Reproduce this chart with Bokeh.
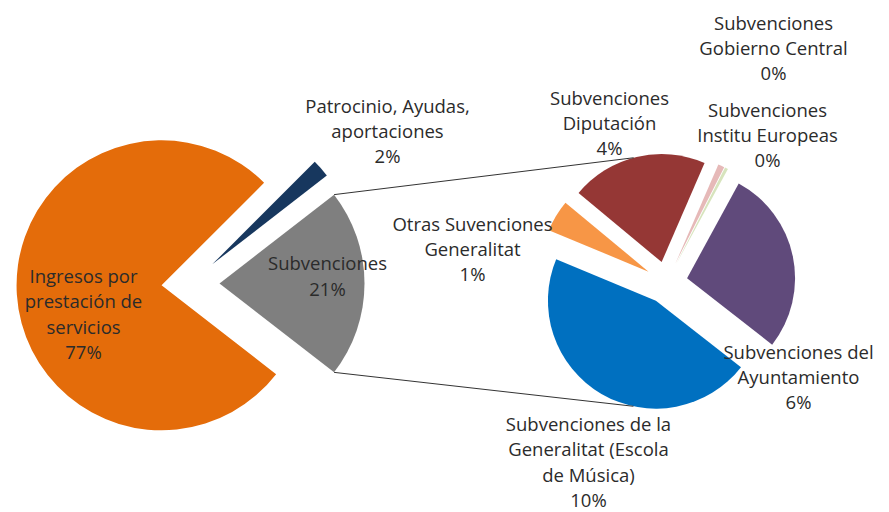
import math
from bokeh.plotting import figure
from bokeh.models import Range1d
from bokeh.core.properties import value
from bokeh.embed import file_html
from bokeh.resources import INLINE

# ---------------- data ----------------
outer_labels = ["Subvenciones",
                "Patrocinio, Ayudas,\naportaciones",
                "Ingresos por\nprestación de\nservicios"]
outer_values = [21, 2, 77]
outer_colors = ["#7F7F7F", "#17375E", "#E46C0A"]

inner_labels = ["Subvenciones del\nAyuntamiento",
                "Subvenciones\nInstitu Europeas",
                "Subvenciones\nGobierno Central",
                "Subvenciones\nDiputación",
                "Otras Suvenciones\nGeneralitat",
                "Subvenciones de la\nGeneralitat (Escola\nde Música)"]
inner_values = [5.8, 0.1, 0.2, 4.3, 1.0, 9.6]
inner_colors = ["#604A7B", "#D7E4BD", "#E6B9B8", "#953735", "#F79646", "#0070C0"]

# ---------------- layout ----------------
W, H = 889, 512
FONT = "Open Sans"
FS = 18.5
LINE_SP = 25.3

p = figure(width=W, height=H, x_range=Range1d(0, W), y_range=Range1d(0, H),
           output_backend="svg", toolbar_location=None, min_border=0,
           x_axis_type=None, y_axis_type=None)
p.grid.visible = False
p.outline_line_color = None
p.background_fill_color = "white"
p.border_fill_color = "white"


def draw_pie(cx, cy, r, explode, values, colors, start_deg):
    total = sum(values)
    a = math.radians(start_deg)
    geo = []
    for v, c in zip(values, colors):
        span = v / total * 2 * math.pi
        mid = a + span / 2
        ex = cx + explode * math.cos(mid)
        ey = cy + explode * math.sin(mid)
        p.wedge(x=[ex], y=[ey], radius=r, start_angle=a, end_angle=a + span,
                direction="anticlock", fill_color=c, line_color=None)
        geo.append((ex, ey, a, a + span))
        a += span
    return geo


# left pie (screen centre 190,283)
L_CX, L_CY, L_R, L_EX = 190, H - 283, 145, 29
outer_geo = draw_pie(L_CX, L_CY, L_R, L_EX, outer_values, outer_colors,
                     -outer_values[0] / sum(outer_values) * 180)

# right pie (screen centre 666,282)
R_CX, R_CY, R_R, R_EX = 666, H - 282, 108, 21
inner_geo = draw_pie(R_CX, R_CY, R_R, R_EX, inner_values, inner_colors, -38)

# connector lines
gx, gy, ga0, ga1 = outer_geo[0]
top_left = (gx + L_R * math.cos(ga1), gy + L_R * math.sin(ga1))
bot_left = (gx + L_R * math.cos(ga0), gy + L_R * math.sin(ga0))
rx, ry, _, _ = inner_geo[3]
top_right = (rx + R_R * math.cos(math.radians(105)), ry + R_R * math.sin(math.radians(105)))
bx, by, _, _ = inner_geo[5]
bot_right = (bx + R_R * math.cos(math.radians(258)), by + R_R * math.sin(math.radians(258)))
p.segment(x0=[top_left[0], bot_left[0]], y0=[top_left[1], bot_left[1]],
          x1=[top_right[0], bot_right[0]], y1=[top_right[1], bot_right[1]],
          line_color="#333333", line_width=1)

# label positions (screen coords, centre of block)
outer_pos = [(327, 275), (387, 130), (83, 313)]
inner_pos = [(798, 376), (767, 134), (773, 47), (609, 122), (472, 248), (588, 461)]

xs, ys, ts = [], [], []


def add_label(label, val, pos):
    lines = label.split("\n") + [f"{round(val)}%"]
    n = len(lines)
    cx, cy = pos
    for i, t in enumerate(lines):
        sy = cy - (n - 1) / 2 * LINE_SP + i * LINE_SP
        xs.append(cx)
        ys.append(H - sy)
        ts.append(t)


for lab, v, pos in zip(outer_labels, outer_values, outer_pos):
    add_label(lab, v, pos)
for lab, v, pos in zip(inner_labels, inner_values, inner_pos):
    add_label(lab, v, pos)

p.text(x=xs, y=ys, text=ts, text_align="center", text_baseline="middle",
       text_font=value(FONT), text_font_size=f"{FS}px", text_color="#2b2b2b")

open("out.html", "w").write(file_html(p, INLINE))
